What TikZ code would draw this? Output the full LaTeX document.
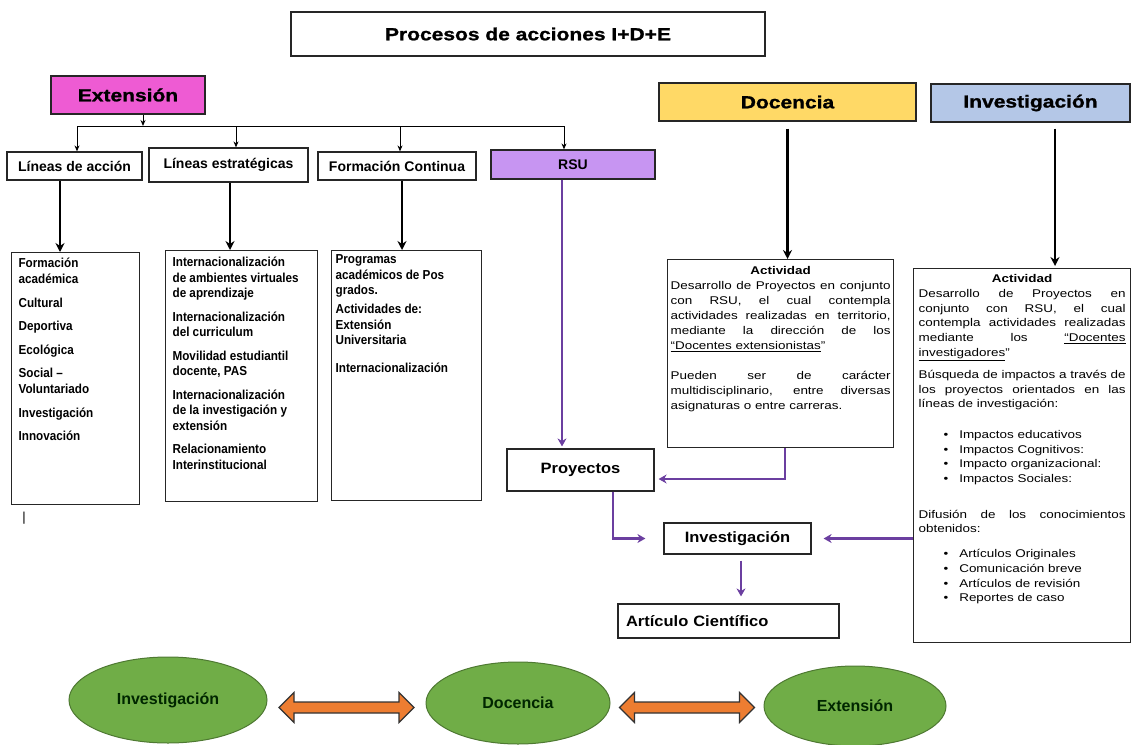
\documentclass[tikz,border=0pt]{standalone}
\usepackage{fontspec}
\setmainfont{Liberation Sans}
\newfontfamily\widefont{Liberation Sans}[FakeStretch=1.2]
\newfontfamily\blackfont{Liberation Sans}[FakeStretch=1.2, FakeBold=1.2]
\newfontfamily\midfont{Liberation Sans}[FakeStretch=1.1]
\newfontfamily\narrowfont{Liberation Sans}[FakeStretch=0.9]
\usetikzlibrary{arrows.meta,shapes.geometric,calc}
\definecolor{extpink}{HTML}{EE5BD3}
\definecolor{docgold}{HTML}{FFD966}
\definecolor{invblue}{HTML}{B4C7E7}
\definecolor{rsulila}{HTML}{C795F2}
\definecolor{lineviolet}{HTML}{6B3FA0}
\definecolor{circgreen}{HTML}{70AD47}
\definecolor{arrorange}{HTML}{ED7D31}
\begin{document}
\begin{tikzpicture}[x=1pt,y=-1pt,
    box/.style={draw=black!85, line width=1.2pt, inner sep=0pt},
    titlebox/.style={box, minimum width=474pt, minimum height=44pt,
      font=\blackfont\fontsize{17.5}{20}\selectfont\bfseries},
    headbox/.style={box, minimum height=38pt,
      font=\blackfont\fontsize{17.5}{20}\selectfont\bfseries},
    subbox/.style={box, font=\fontsize{14}{16}\selectfont\bfseries},
    listbox/.style={box, anchor=north west, inner xsep=7pt, inner ysep=0pt,
      font=\narrowfont\fontsize{13}{16}\selectfont\bfseries},
    actbox/.style={box, anchor=north west, inner ysep=0pt,
      font=\widefont\fontsize{11.2}{15}\selectfont},
    midbox/.style={box, font=\midfont\fontsize{15}{18}\selectfont\bfseries},
    conn/.style={line width=1pt, -{Stealth[length=6pt,width=5pt]}},
    blackarr/.style={line width=2.6pt, -{Stealth[length=9pt,width=9pt]}},
    purarr/.style={draw=lineviolet, line width=2.6pt,
      -{Stealth[length=8pt,width=9pt]}},
    circ/.style={ellipse, draw=circgreen!70!black, line width=1pt,
      fill=circgreen, inner sep=0pt,
      font=\fontsize{16}{18}\selectfont\bfseries, text=black!85!green},
    dblarr/.style={draw=black!80, line width=1.2pt, fill=arrorange}]
  \useasboundingbox (0,0) rectangle (1132,744);

  % Title and the three main areas
  \node[titlebox] (titulo) at (528,34) {Procesos de acciones I+D+E};
  \node[headbox, fill=extpink, minimum width=154pt] (ext) at (128,95) {Extensión};
  \node[headbox, fill=docgold, minimum width=257pt] (doc) at (787.5,102) {Docencia};
  \node[headbox, fill=invblue, minimum width=199pt] (inv) at (1030.5,103) {Investigación};

  % Branches of Extensión
  \node[subbox, minimum width=135pt, minimum height=28pt] (lac) at (74.5,166) {Líneas de acción};
  \node[subbox, minimum width=159pt, minimum height=34pt] (les) at (228.5,165) {Líneas estratégicas};
  \node[subbox, minimum width=158pt, minimum height=28pt] (fco) at (397,166) {Formación Continua};
  \node[subbox, fill=rsulila, minimum width=164pt, minimum height=29pt] (rsu) at (573,164.5) {RSU};

  % Bus from Extensión to its branches
  \coordinate (b0) at (143,126);
  \coordinate (b1) at (77,126);
  \coordinate (b2) at (236,126);
  \coordinate (b3) at (400,126);
  \coordinate (b4) at (564,126);
  \draw[line width=1pt] (b1) -- (b4);
  \draw[conn] (b0 |- ext.south) -- (b0);
  \foreach \b/\n in {b1/lac,b2/les,b3/fco,b4/rsu}
    \draw[conn] (\b) -- (\b |- \n.north);

  % Lists under each branch
  \node[listbox] (accion) at (11,252) {\parbox[t][252pt][t]{114pt}{\raggedright
    \rule{0pt}{15pt}Formación\\académica\\[7.5pt]Cultural\\[7.5pt]Deportiva\\[7.5pt]Ecológica\\[7.5pt]%
    Social –\\Voluntariado\\[7.5pt]Investigación\\[7.5pt]Innovación}};
  \node[listbox, font=\narrowfont\fontsize{13}{15.5}\selectfont\bfseries] (estrat) at (165,250) {\parbox[t][251pt][t]{138pt}{\raggedright
    \rule{0pt}{16pt}Internacionalización\\de ambientes virtuales\\de aprendizaje\\[8pt]%
    Internacionalización\\del curriculum\\[8pt]Movilidad estudiantil\\docente, PAS\\[8pt]%
    Internacionalización\\de la investigación y\\extensión\\[8pt]Relacionamiento\\Interinstitucional}};
  \node[listbox, inner xsep=4pt, font=\narrowfont\fontsize{13}{15.5}\selectfont\bfseries] (formac) at (331,250) {\parbox[t][250pt][t]{142pt}{\raggedright
    \rule{0pt}{13pt}Programas\\académicos de Pos\\grados.\\[3.5pt]Actividades de:\\Extensión\\Universitaria\\[12.5pt]%
    Internacionalización}};
  \draw[blackarr] ([xshift=-14.5pt]lac.south) -- ([xshift=-14.5pt]lac.south |- accion.north);
  \draw[blackarr] ([xshift=1.5pt]les.south) -- ([xshift=1.5pt]les.south |- estrat.north);
  \draw[blackarr] ([xshift=5pt]fco.south) -- ([xshift=5pt]fco.south |- formac.north);

  % Activities of Docencia and Investigación
  \node[actbox, inner xsep=3pt] (actdoc) at (667,259) {\parbox[t][188pt][t]{220pt}{%
    {\centering\bfseries\rule{0pt}{15pt}Actividad\par}
    Desarrollo de Proyectos en conjunto\linebreak con RSU, el cual contempla\linebreak
    actividades realizadas en territorio,\linebreak mediante la dirección de los\linebreak
    \underline{“Docentes extensionistas}”\par\vspace{15pt}
    Pueden ser de carácter\linebreak multidisciplinario, entre diversas\linebreak
    asignaturas o entre carreras.}};
  \node[actbox, inner xsep=5pt, font=\widefont\fontsize{11.2}{14.7}\selectfont] (actinv) at (913,268) {\parbox[t][374pt][t]{207pt}{%
    {\centering\bfseries\rule{0pt}{14pt}Actividad\par}
    Desarrollo de Proyectos en\linebreak conjunto con RSU, el cual\linebreak
    contempla actividades realizadas\linebreak mediante los \underline{“Docentes}\linebreak
    \underline{investigadores}”\par\vspace{7.5pt}
    Búsqueda de impactos a través de\linebreak los proyectos orientados en las\linebreak
    líneas de investigación:\par\vspace{16pt}
    \hspace*{25pt}\textbullet\hspace{11pt}Impactos educativos\par
    \hspace*{25pt}\textbullet\hspace{11pt}Impactos Cognitivos:\par
    \hspace*{25pt}\textbullet\hspace{11pt}Impacto organizacional:\par
    \hspace*{25pt}\textbullet\hspace{11pt}Impactos Sociales:\par\vspace{21pt}
    Difusión de los conocimientos\linebreak obtenidos:\par\vspace{10pt}
    \hspace*{25pt}\textbullet\hspace{11pt}Artículos Originales\par
    \hspace*{25pt}\textbullet\hspace{11pt}Comunicación breve\par
    \hspace*{25pt}\textbullet\hspace{11pt}Artículos de revisión\par
    \hspace*{25pt}\textbullet\hspace{11pt}Reportes de caso}};
  \draw[blackarr, shorten <=7pt] (doc.south) -- (doc.south |- actdoc.north);
  \draw[blackarr, shorten <=6pt, shorten >=2pt] ([xshift=24.5pt]inv.south) -- ([xshift=24.5pt]inv.south |- actinv.north);

  % Projects, research and article
  \node[midbox, minimum width=147pt, minimum height=42pt] (proy) at (580.5,470) {Proyectos};
  \node[midbox, minimum width=147pt, minimum height=31pt] (invm) at (737.5,538.5) {Investigación};
  \node[midbox, minimum width=221pt, minimum height=34pt, text width=205pt, align=left] (art) at (728.5,621) {Artículo Científico};
  \draw[purarr, shorten >=2pt] ([xshift=-11pt]rsu.south) -- ([xshift=-11pt]rsu.south |- proy.north);
  \draw[purarr, shorten >=4pt] ([xshift=4.5pt]actdoc.south) |- ([yshift=-9pt]proy.east);
  \draw[purarr, shorten >=18pt] ([xshift=32.5pt]proy.south) |- (invm.west);
  \draw[purarr, shorten >=12pt] (actinv.west |- invm.east) -- (invm.east);
  \draw[purarr, shorten <=6pt, shorten >=7pt] ([xshift=3.5pt]invm.south) -- ([xshift=3.5pt]invm.south |- art.north);

  % Stray mark below the first list
  \node[font=\fontsize{13}{13}\selectfont] (marca) at (24,518) {|};

  % The three functions and the double arrows between them
  \node[circ, minimum width=198pt, minimum height=86pt] (cinv) at (168,700) {Investigación};
  \node[circ, minimum width=184pt, minimum height=82pt] (cdoc) at (518,703) {Docencia};
  \node[circ, minimum width=182pt, minimum height=80pt] (cext) at (855,706) {Extensión};
  \coordinate (m1) at ($(cinv.east)!0.5!(cdoc.west)+(0,6)$);
  \coordinate (m2) at ($(cdoc.east)!0.5!(cext.west)+(0,3)$);
  \foreach \m in {m1,m2}
    \draw[dblarr] ([xshift=-67.5pt]\m) -- ++(15,-15) -- ++(0,9.5) -- ++(105,0) -- ++(0,-9.5)
      -- ++(15,15) -- ++(-15,15) -- ++(0,-9.5) -- ++(-105,0) -- ++(0,9.5) -- cycle;
\end{tikzpicture}
\end{document}
